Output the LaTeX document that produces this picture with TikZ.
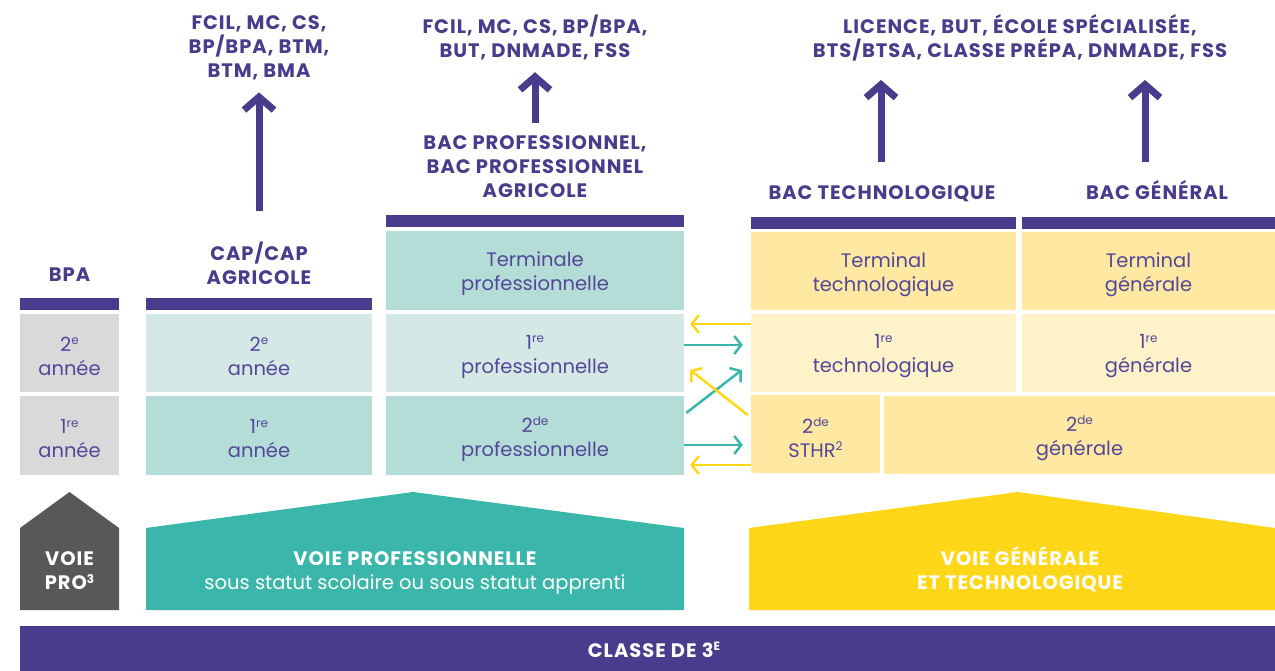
\documentclass[tikz,border=0pt]{standalone}
\usepackage{fontspec}
\setmainfont{Poppins}
\newfontfamily\labfont[LetterSpace=5]{Poppins}
\usetikzlibrary{arrows.meta}
\definecolor{purp}{HTML}{4B3B8C}
\definecolor{txtp}{HTML}{54479A}
\definecolor{tealA}{HTML}{B3DDD6}
\definecolor{tealB}{HTML}{D4E9E5}
\definecolor{greyc}{HTML}{D9D9D9}
\definecolor{yelA}{HTML}{FEE8A2}
\definecolor{yelB}{HTML}{FEF2C9}
\definecolor{tealD}{HTML}{3AB7AA}
\definecolor{yelD}{HTML}{FFD618}
\definecolor{greyD}{HTML}{58585A}
\newcommand{\labsize}{\labfont\bfseries\fontsize{19.5}{24}\selectfont}
\newcommand{\myexp}[1]{\raisebox{0.34em}{\fontsize{12}{12}\selectfont #1}}
\tikzset{
  cellbox/.style={inner sep=0pt},
  cell/.style={inner sep=0pt, align=center, text=txtp, font=\fontsize{19.5}{24}\selectfont},
  lab/.style={inner sep=0pt, align=center, text=purp, font=\labsize},
  wlab/.style={inner sep=0pt, align=center, text=white, font=\labsize},
  barbox/.style={fill=purp, inner sep=0pt, minimum height=12pt},
  bigarrow/.style={draw=purp, line width=7pt, -{Straight Barb[length=13pt,width=30pt]}},
  tarr/.style={draw=tealD, line width=2.5pt, -{Straight Barb[length=7pt,width=18pt]}},
  yarr/.style={draw=yelD, line width=2.5pt, -{Straight Barb[length=7pt,width=18pt]}},
}
% name, fill, width, height, position, text
\newcommand{\mycell}[6]{%
  \node[cellbox, fill=#2, minimum width=#3pt, minimum height=#4pt] (#1) at (#5) {};
  \node[cell] (#1-t) at ([yshift=-3.5pt]#1.center) {#6};}
\begin{document}
\begin{tikzpicture}[x=1pt,y=-1pt]
\useasboundingbox (0,0) rectangle (1275,671);

% ---- BPA column
\node[barbox, minimum width=99pt] (bpabar) at (69.5,304) {};
\mycell{bpa2}{greyc}{99}{78}{69.5,353}{2\myexp{e}\\année}
\mycell{bpa1}{greyc}{99}{79}{69.5,435.5}{1\myexp{re}\\année}
\node[lab, anchor=base] (bpalab) at (69.5,282) {BPA};

% ---- CAP column
\node[barbox, minimum width=226pt] (capbar) at (259,304) {};
\mycell{cap2}{tealB}{226}{78}{259,353}{2\myexp{e}\\année}
\mycell{cap1}{tealA}{226}{79}{259,435.5}{1\myexp{re}\\année}
\node[lab] (caplab) at (259,263) {CAP/CAP\\AGRICOLE};
\node[lab] (captop) at (259,48) {FCIL, MC, CS,\\BP/BPA, BTM,\\BTM, BMA};
\draw[bigarrow] ([yshift=30pt]caplab.north) -- ([yshift=-12pt]captop.south);

% ---- Bac pro column
\node[barbox, minimum width=298pt] (bpbar) at (535,221) {};
\mycell{bpT}{tealA}{298}{79}{535,270.5}{Terminale\\professionnelle}
\mycell{bp1}{tealB}{298}{78}{535,353}{1\myexp{re}\\professionnelle}
\mycell{bp0}{tealA}{298}{79}{535,435.5}{2\myexp{de}\\professionnelle}
\node[lab] (bplab) at (535,167) {BAC PROFESSIONNEL,\\BAC PROFESSIONNEL\\AGRICOLE};
\node[lab] (bptop) at (535,37.5) {FCIL, MC, CS, BP/BPA,\\BUT, DNMADE, FSS};
\draw[bigarrow] ([yshift=13pt]bplab.north) -- ([yshift=-12pt]bptop.south);

% ---- Techno column
\node[barbox, minimum width=265pt] (techbar) at (883.5,223) {};
\mycell{techT}{yelA}{265}{78}{883.5,271}{Terminal\\technologique}
\mycell{tech1}{yelB}{265}{78}{883.5,353}{1\myexp{re}\\technologique}
\node[lab, anchor=base] (techlab) at (882,200) {BAC TECHNOLOGIQUE};

% ---- General column
\node[barbox, minimum width=253pt] (genbar) at (1148.5,223) {};
\mycell{genT}{yelA}{253}{78}{1148.5,271}{Terminal\\générale}
\mycell{gen1}{yelB}{253}{78}{1148.5,353}{1\myexp{re}\\générale}
\node[lab, anchor=base] (genlab) at (1157,200) {BAC GÉNÉRAL};

% ---- 2de row right
\mycell{sthr}{yelA}{129}{78}{815.5,434}{2\myexp{de}\\STHR\myexp{2}}
\mycell{gen0}{yelA}{391}{78}{1079.5,435}{2\myexp{de}\\générale}

\node[lab] (gttop) at (1020,38) {LICENCE, BUT, ÉCOLE SPÉCIALISÉE,\\BTS/BTSA, CLASSE PRÉPA, DNMADE, FSS};
\coordinate (tA) at (881,80);
\coordinate (gA) at (1145,80);
\draw[bigarrow] ([yshift=38pt]techlab.base -| tA) -- (tA);
\draw[bigarrow] ([yshift=38pt]techlab.base -| gA) -- (gA);

% ---- passerelles
\draw[yarr] ([yshift=29pt]tech1.west) -- ([yshift=29pt,xshift=6pt]bp1.east);
\draw[tarr] ([yshift=8pt]bp1.east) -- ([yshift=8pt,xshift=-8pt]tech1.west);
\draw[tarr] ([yshift=22.5pt,xshift=2pt]bp0.east) -- ([yshift=-17pt,xshift=-9pt]tech1.west);
\draw[yarr] ([yshift=19pt,xshift=-3pt]sthr.west) -- ([yshift=-17pt,xshift=6pt]bp1.east);
\draw[tarr] ([yshift=-9.5pt]bp0.east) -- ([yshift=-11pt,xshift=-8pt]sthr.west);
\draw[yarr] ([yshift=-31pt]sthr.west) -- ([yshift=-29.5pt,xshift=6pt]bp0.east);

% ---- houses
\fill[greyD] (20,610) -- (20,528) -- (69.5,492) -- (119,528) -- (119,610) -- cycle;
\node[wlab] (vpro) at (69.5,571) {VOIE\\PRO\myexp{3}};
\fill[tealD] (146,610) -- (146,528) -- (413,492) -- (684,528) -- (684,610) -- cycle;
\node[inner sep=0pt, align=center, text=white, font=\fontsize{19.5}{24}\selectfont] (vprof) at (415,573)
  {{\labsize VOIE PROFESSIONNELLE}\\sous statut scolaire ou sous statut apprenti};
\fill[yelD] (749,610) -- (749,528) -- (1018,492) -- (1275,528) -- (1275,610) -- cycle;
\node[wlab] (vgt) at (1020,569) {VOIE GÉNÉRALE\\ET TECHNOLOGIQUE};

% ---- classe de 3e
\fill[purp] (20,626) rectangle (1275,671);
\node[wlab] (c3) at (654,650) {CLASSE DE 3\myexp{E}};
\end{tikzpicture}
\end{document}
